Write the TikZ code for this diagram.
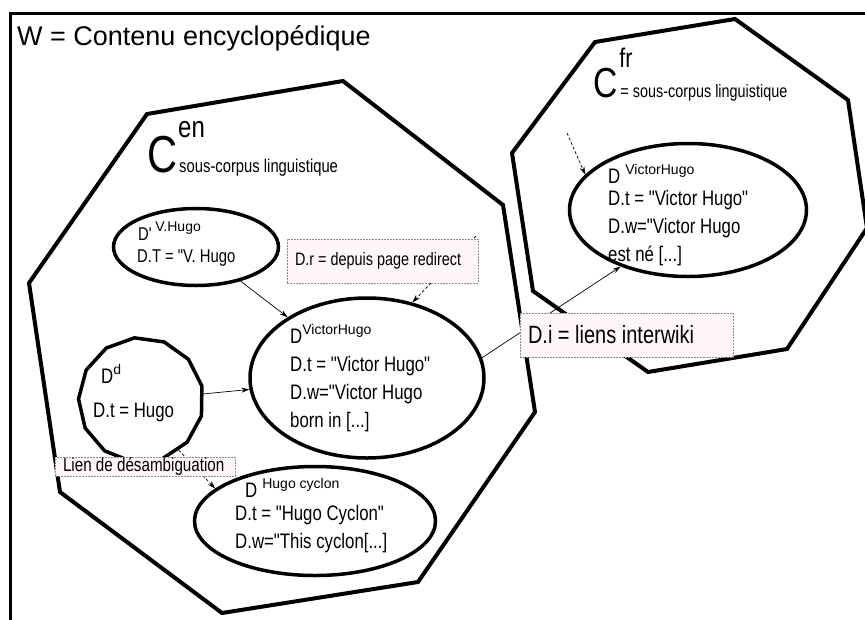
\documentclass[tikz,border=0pt]{standalone}
\usepackage{fontspec}
\setmainfont{Liberation Sans}
\newfontfamily\narrowfont[FakeStretch=0.8]{Liberation Sans}
\usetikzlibrary{shapes.geometric,arrows.meta}
\definecolor{labelpink}{HTML}{FFF7F7}
\newcommand{\fsz}[2]{\fontsize{#1}{#2}\selectfont}
\newcommand{\dsup}[1]{\raisebox{9pt}{\normalfont\fsz{14}{14}#1}}

\begin{document}
\begin{tikzpicture}[x=1pt, y=-1pt,
    poly/.style={draw, line width=4pt, line join=miter},
    doc/.style={draw, ellipse, line width=3.5pt, inner sep=0pt},
    txt/.style={anchor=north west, align=left, inner sep=0pt},
    lbl/.style={draw=black!45, line width=0.7pt, dash pattern=on 2pt off 1pt,
        fill=labelpink, inner ysep=0pt, inner xsep=8pt},
    arr/.style={line width=0.7pt, -{Stealth[length=8pt, width=5pt]}},
    darr/.style={arr, densely dashed}]
    \useasboundingbox (0, 0) rectangle (865, 619);
    \clip (0, 0) rectangle (865, 619);
    % cadre W
    \draw [line width=3pt] (10, 640) -- (10, 13) -- (880, 13);
    \node [anchor=base west, inner sep=0pt, font=\fsz{27}{27}] (20) at (17, 45) {W = Contenu encyclopédique};
    % sous-corpus en / fr
    \draw [poly] (147, 114) -- (343, 81) -- (503, 205) -- (535, 412) -- (418, 582)
        -- (222, 613) -- (60, 492) -- (29, 283) -- cycle;
    \draw [poly] (595, 42) -- (735, 19) -- (848, 100) -- (867, 228) -- (787, 349)
        -- (648, 372) -- (533, 291) -- (512, 153) -- cycle;
    \node [anchor=base west, inner sep=0pt, font=\narrowfont] (21) at (147, 172)
        {\fsz{52}{52}C\rlap{\fsz{30}{30}\hspace{1pt}\raisebox{35pt}{en}}\fsz{18.5}{18.5}\hspace{2pt}sous-corpus linguistique};
    \node [anchor=base west, inner sep=0pt, font=\narrowfont] (22) at (593, 97)
        {\fsz{42}{42}C\rlap{\fsz{27}{27}\hspace{2pt}\raisebox{30pt}{fr}}\fsz{18}{18}\hspace{3pt}= sous-corpus linguistique};
    % documents
    \node [doc, minimum width=165pt, minimum height=77pt] (0) at (196, 247) {};
    \node [doc, minimum width=234pt, minimum height=160pt] (1) at (367, 378) {};
    \node [doc, minimum width=241pt, minimum height=109pt] (2) at (315, 521) {};
    \node [doc, minimum width=237pt, minimum height=133pt] (3) at (688, 210) {};
    \node [draw, regular polygon, regular polygon sides=13, regular polygon rotate=6,
        line width=3.5pt, inner sep=0pt, minimum size=125pt] (4) at (141, 400) {};
    \node [txt, font=\narrowfont\fsz{18.5}{22}] (10) at (137, 222)
        {\hspace*{1pt}D\textquotesingle\hspace{3pt}\dsup{V.Hugo}\\D.T = "V. Hugo};
    \node [txt, font=\narrowfont\fsz{21}{28}] (11) at (290, 324)
        {D\dsup{VictorHugo}\\D.t = "Victor Hugo"\\D.w="Victor Hugo\\born in [...]};
    \node [txt, font=\narrowfont\fsz{21}{28}] (12) at (235, 478)
        {\hspace*{10pt}D\hspace{5pt}\dsup{Hugo cyclon}\\[-5pt]D.t = "Hugo Cyclon"\\D.w="This cyclon[...]};
    \node [txt, font=\narrowfont\fsz{21}{28}] (13) at (608, 164)
        {D\hspace{5pt}\dsup{VictorHugo}\\[-6pt]D.t = "Victor Hugo"\\D.w="Victor Hugo\\est né [...]};
    \node [txt, font=\narrowfont\fsz{21}{28}] (14) at (93, 364)
        {\hspace*{8pt}D\dsup{d}\\[6pt]D.t = Hugo};
    \coordinate (30) at (476, 236);
    \coordinate (31) at (567, 133);
    % liens
    \draw [arr] (0) to (1);
    \draw [darr] (30) to (1.59);
    \draw [arr] (4) to (1);
    \draw [darr] (4.-53) to (2.162);
    \draw [arr] (1.10) to (3.-140);
    \draw [darr] (31) to (3.161);
    % etiquettes
    \node [lbl, font=\narrowfont\fsz{18}{18}, minimum height=44pt] (5) at (382.5, 261)
        {\makebox[175pt][l]{D.r = depuis page redirect}};
    \node [lbl, font=\narrowfont\fsz{25}{25}, minimum height=44pt] (6) at (626.5, 335)
        {\makebox[197pt][l]{D.i = liens interwiki}};
    \node [lbl, font=\narrowfont\fsz{19}{19}, minimum height=19pt] (7) at (145, 466.5)
        {\makebox[164pt][l]{Lien de désambiguation}};
\end{tikzpicture}
\end{document}
